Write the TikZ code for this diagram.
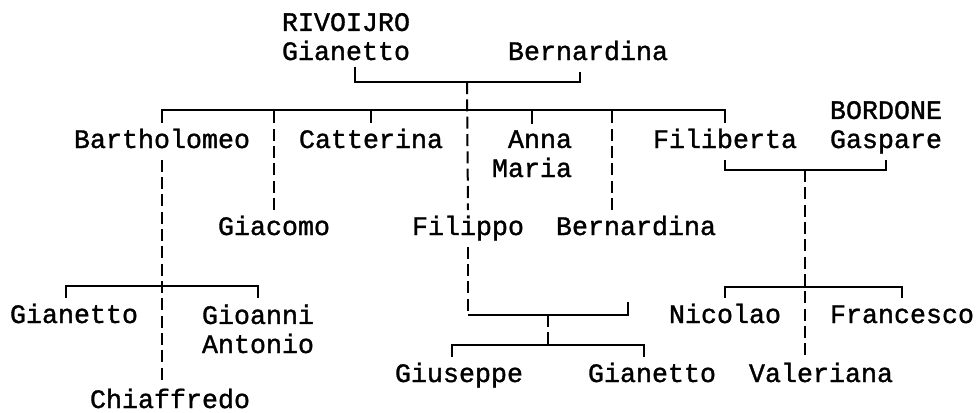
\documentclass[tikz,border=0pt]{standalone}
\usepackage{fontspec}
\newfontfamily\famfont[FakeBold=1.2]{Liberation Mono}
\begin{document}
\begin{tikzpicture}[x=0.75pt,y=-0.75pt,
	person/.style={font=\famfont\fontsize{20pt}{21.8pt}\selectfont, inner xsep=0pt, inner ysep=4.5pt, anchor=base},
	single/.style={person, text height=14pt, text depth=4pt},
	couple/.style={person, align=left},
	famline/.style={line width=1.5pt},
	famdash/.style={famline, dash pattern=on 9pt off 4pt}]
	\useasboundingbox (0,0) rectangle (976,412);
	% first generation
	\node[couple] (gianetto) at (346,60) {RIVOIJRO\\Gianetto};
	\node[single] (bernardina) at (588,60) {Bernardina};
	% children
	\node[single] (bartholomeo) at (162,148) {Bartholomeo};
	\node[single] (catterina) at (371,148) {Catterina};
	\node[couple, align=right] (annamaria) at (532,177) {Anna\\Maria};
	\node[single] (filiberta) at (725,148) {Filiberta};
	\node[couple] (gaspare) at (886,148) {BORDONE\\Gaspare};
	\node[single] (giacomo) at (274,235) {Giacomo};
	\node[single] (filippo) at (468,235) {Filippo};
	\node[single] (bernardina2) at (636,235) {Bernardina};
	% grandchildren
	\node[single] (gianetto2) at (74,323) {Gianetto};
	\node[couple] (gioanni) at (258,353) {Gioanni\\Antonio};
	\node[single] (chiaffredo) at (170,408) {Chiaffredo};
	\node[single] (giuseppe) at (459,382) {Giuseppe};
	\node[single] (gianetto3) at (652,382) {Gianetto};
	\node[single] (nicolao) at (725,323) {Nicolao};
	\node[single] (francesco) at (902,323) {Francesco};
	\node[single] (valeriana) at (821,382) {Valeriana};
	% junctions
	\coordinate (m1) at (467,82);
	\coordinate (s1) at (467,110);
	\coordinate (m2) at (805,170);
	\coordinate (s2) at (162,286);
	\coordinate (s4) at (805,287);
	\coordinate (m3) at (548,315);
	\coordinate (s3) at (548,345);
	\coordinate (wife) at (628,302);
	% Gianetto and Bernardina
	\draw[famline] ([xshift=6.75pt]gianetto.south) |- (m1) -| ([xshift=-6pt]bernardina.south);
	\draw[famdash] (m1) -- (filippo.north);
	\draw[famline] (bartholomeo.north) |- (s1) -| (filiberta.north);
	\draw[famline] (catterina.north) -- (catterina.north |- s1);
	\draw[famline] (annamaria.north) -- (annamaria.north |- s1);
	\draw[famdash] (giacomo.north) -- (giacomo.north |- s1);
	\draw[famdash] ([xshift=-18pt]bernardina2.north) -- ([xshift=-18pt]bernardina2.north |- s1);
	% Bartholomeo
	\draw[famdash] (bartholomeo.south) -- (bartholomeo.south |- chiaffredo.north);
	\draw[famline] ([xshift=-6pt]gianetto2.north) |- (s2) -| (gioanni.north);
	% Filippo
	\draw[famdash] (filippo.south) -- (filippo.south |- m3);
	\draw[famline] (filippo.south |- m3) -- (m3) -| (wife);
	\draw[famdash] (m3) -- (s3);
	\draw[famline] ([xshift=-5.25pt]giuseppe.north) |- (s3) -| ([xshift=-6pt]gianetto3.north);
	% Filiberta and Gaspare
	\draw[famline] (filiberta.south) |- (m2) -| (gaspare.south);
	\draw[famdash] (m2) -- (m2 |- valeriana.north);
	\draw[famline] (nicolao.north) |- (s4) -| (francesco.north);
\end{tikzpicture}
\end{document}
